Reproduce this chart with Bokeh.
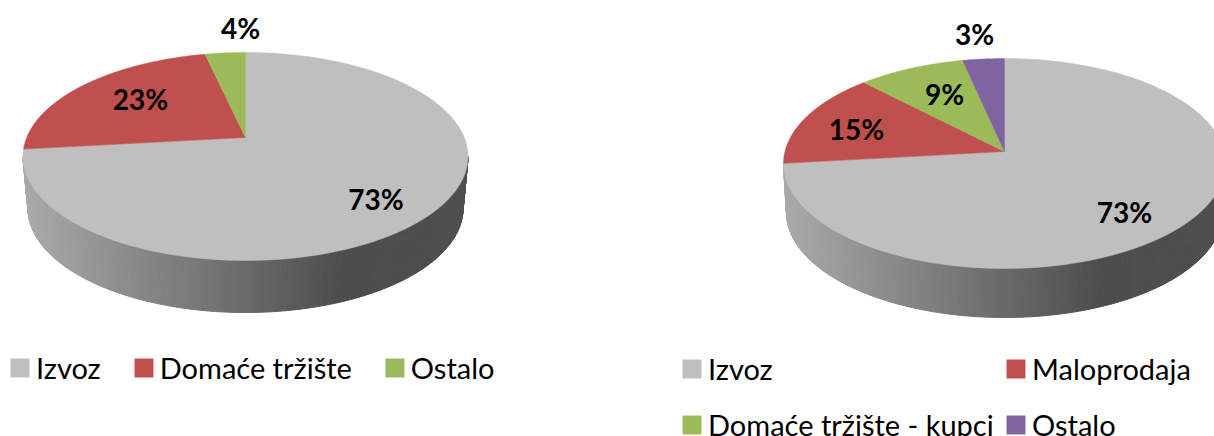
import numpy as np
from bokeh.core.properties import value
from bokeh.embed import file_html
from bokeh.models import ColumnDataSource, Legend, LegendItem, Range1d
from bokeh.plotting import figure
from bokeh.resources import INLINE

# data
left_names = ["Izvoz", "Domaće tržište", "Ostalo"]
left_shares = [73.2, 23.3, 3.5]
left_labels = ["73%", "23%", "4%"]
right_names = ["Izvoz", "Maloprodaja", "Domaće tržište - kupci", "Ostalo"]
right_shares = [73.2, 14.6, 8.8, 3.4]
right_labels = ["73%", "15%", "9%", "3%"]
colors = ["#BFBFBF", "#C0504D", "#9BBB59", "#8064A2"]

FONT = "Lato"
p = figure(width=1214, height=436, x_range=Range1d(0, 1214), y_range=Range1d(436, 0),
           toolbar_location=None, output_backend="svg", min_border=0)
p.axis.visible = False
p.grid.visible = False
p.outline_line_color = None
p.background_fill_color = "#FFFFFF"


def shade(frac):
    return "#{0:02x}{0:02x}{0:02x}".format(int(round(np.interp(frac, [0, 0.72, 1], [0xAA, 0x4D, 0x4F]))))


def draw_pie(cx, cy, rx, ry, apex_y, depth, inset, shares, labels, label_xy):
    d = (cy - apex_y) / ry

    # side wall, in thin strips to carry the shading
    t = np.linspace(0, np.pi, 241)
    top_x, top_y = cx + rx * np.cos(t), cy + ry * np.sin(t)
    low_x, low_y = cx + (rx - inset) * np.cos(t), cy + depth + ry * np.sin(t)
    xs, ys, cols = [], [], []
    for i in range(len(t) - 1):
        xs.append([top_x[i], top_x[i + 1], low_x[i + 1], low_x[i]])
        ys.append([top_y[i], top_y[i + 1], low_y[i + 1], low_y[i]])
        cols.append(shade((cx - rx - top_x[i]) / (-2 * rx)))
    src = ColumnDataSource(dict(xs=xs, ys=ys, c=cols))
    p.patches("xs", "ys", source=src, fill_color="c", line_color="c", line_width=1)

    # top face: circle in the pie's plane, projected so the centre lands on the apex
    rends = []
    start = 0.0
    for share, col in zip(shares, colors):
        th = np.radians(np.linspace(start, start + share, 120) * 3.6)
        start += share
        ux, uy = np.sin(th), np.cos(th)
        den = 1 + d * uy
        px = cx + rx * ux * np.sqrt(1 - d * d) / den
        py = cy - ry * (uy + d) / den
        xs_ = np.concatenate([[cx], px])
        ys_ = np.concatenate([[apex_y], py])
        rends.append(p.patch(xs_, ys_, fill_color=col, line_color=col, line_width=0.5))

    lx, ly = zip(*label_xy)
    p.text(list(lx), list(ly), text=labels, text_font=value(FONT), text_font_style="bold",
           text_font_size="28px", text_color="#000000", text_align="center", text_baseline="middle")
    return rends


r_left = draw_pie(245, 156, 222.5, 104, 137, 52, 5, left_shares, left_labels,
                  [(375.5, 198.5), (140, 98.5), (240, 27.5)])
r_right = draw_pie(1004, 163, 221, 105, 151, 49, 3, right_shares, right_labels,
                   [(1124, 211.5), (856, 128.5), (944, 93.5), (974, 33.5)])


def legend(names, rends, loc, orientation, spacing):
    lg = Legend(items=[LegendItem(label=n, renderers=[r]) for n, r in zip(names, rends)],
                location=loc, orientation=orientation, spacing=spacing,
                background_fill_alpha=0, border_line_alpha=0, margin=0, padding=0,
                glyph_width=23, glyph_height=23, label_standoff=5,
                label_text_font=FONT, label_text_font_size="29px", label_text_color="#000000",
                label_height=23, label_text_baseline="middle")
    p.add_layout(lg, "center")


legend(left_names, r_left, (8, 51), "horizontal", 31)
legend(right_names[0::2], r_right[0::2], (680, -6), "vertical", 21)
legend(right_names[1::2], r_right[1::2], (1004, -6), "vertical", 21)

open("out.html", "w").write(file_html(p, INLINE))
